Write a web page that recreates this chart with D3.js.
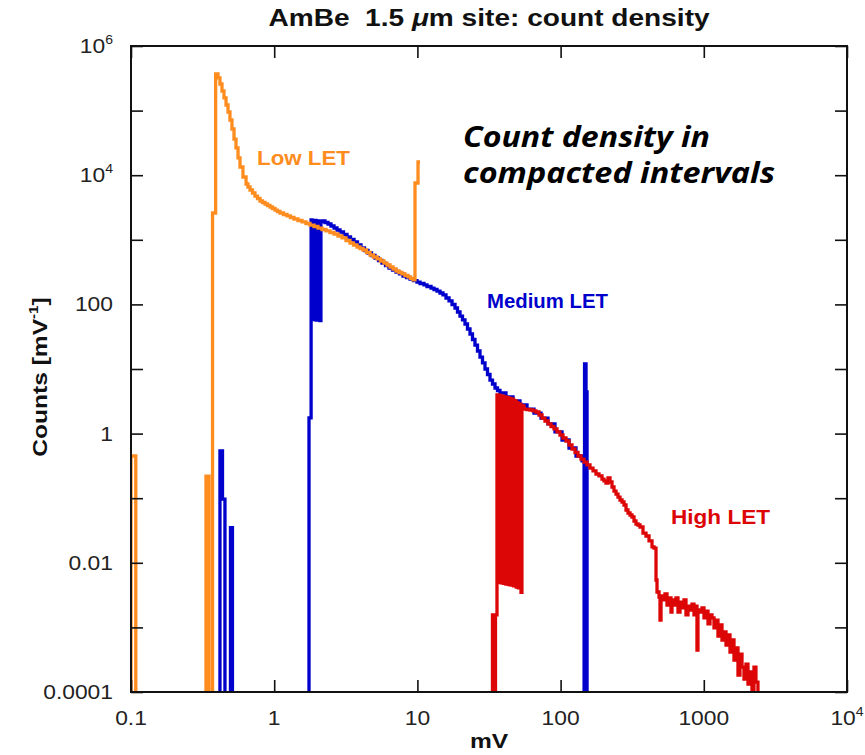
<!DOCTYPE html>
<html>
<head>
<meta charset="utf-8">
<script src="https://cdn.jsdelivr.net/npm/d3@7"></script>
<style>
  html, body { margin: 0; padding: 0; background: #fff; overflow: hidden; }
  svg { display: block; }
</style>
</head>
<body>
<div id="chart"></div>
<script>
// step histograms: [left bin edge in mV, counts per mV]; 0 = empty bin
const lowLET = [
  [0.1, 0], [0.1, 0.45], [0.108, 0], [0.334, 0.22], [0.3505, 0], [0.371, 2600],
  [0.390, 3.69e5], [0.405, 3.2e5], [0.418, 2.58e5], [0.432, 2.01e5], [0.446, 1.57e5],
  [0.461, 1.22e5], [0.476, 9.51e4], [0.491, 7.15e4], [0.507, 5.19e4], [0.524, 3.63e4],
  [0.541, 2.64e4], [0.559, 1.85e4], [0.577, 1.34e4], [0.605, 9380], [0.636, 7310],
  [0.656, 6568], [0.678, 5900], [0.7054, 5303], [0.734, 4760], [0.7644, 4358],
  [0.796, 3990], [0.8286, 3780], [0.863, 3580], [0.8979, 3396], [0.935, 3220],
  [0.973, 3051], [1.013, 2890], [1.0545, 2742], [1.098, 2600], [1.161, 2464],
  [1.229, 2340], [1.299, 2214], [1.375, 2100], [1.466, 1990], [1.564, 1890],
  [1.667, 1788], [1.778, 1690], [1.897, 1607], [2.023, 1520], [2.157, 1443],
  [2.300, 1370], [2.453, 1297], [2.617, 1230], [2.790, 1145], [2.976, 1070],
  [3.172, 976], [3.383, 892], [3.580, 831], [3.786, 774], [3.973, 733], [4.170, 695],
  [4.411, 636], [4.667, 582], [4.936, 542], [5.223, 505], [5.524, 470], [5.846, 437],
  [6.133, 407], [6.438, 379], [6.754, 353], [7.089, 329], [7.437, 312], [7.806, 296],
  [8.191, 280], [8.596, 266], [8.950, 252], [9.318, 239],
  [9.621, 7570], [10.10, 1.6e4], [10.43, 1.6e4]
];

const mediumLET = [
  [0.418, 0], [0.418, 0.54], [0.4355, 0.097], [0.453, 0], [0.495, 0.035], [0.511, 0],
  [1.75, 1.75], [1.81, 2030], [1.84, 60], [1.87, 2000], [1.90, 58], [1.93, 1990],
  [1.96, 57], [1.99, 1970], [2.03, 57], [2.06, 1950], [2.09, 56], [2.12, 1920],
  [2.157, 1954], [2.263, 1853], [2.375, 1757], [2.492, 1635], [2.617, 1522],
  [2.745, 1418], [2.881, 1320], [3.048, 1208], [3.225, 1105], [3.411, 1011],
  [3.609, 924], [3.817, 831], [4.038, 747], [4.272, 683], [4.519, 625], [4.780, 571],
  [5.057, 523], [5.350, 478], [5.659, 437], [5.987, 400], [6.334, 366], [6.700, 341],
  [7.089, 317], [7.499, 296], [7.933, 275], [8.392, 261], [8.878, 247], [9.391, 234],
  [9.936, 222], [10.43, 210.6], [11.12, 200], [11.67, 189.3], [12.45, 179],
  [13.06, 170.1], [13.71, 161], [14.38, 150.2], [15.09, 140], [15.84, 125.7],
  [16.63, 113], [17.45, 99.7], [18.31, 88], [19.05, 76.3], [19.84, 66], [20.65, 57.4],
  [21.50, 49.7], [22.37, 41.6], [23.30, 34.8], [24.25, 28.6], [25.24, 23.5],
  [26.28, 19.0], [27.36, 15.3], [28.48, 12.4], [29.65, 10.0], [30.87, 8.22],
  [32.14, 6.75], [33.45, 5.86], [34.83, 5.08], [36.26, 4.65], [37.74, 4.25],
  [41.56, 3.69], [46.52, 3.20], [52.06, 2.77], [58.27, 2.40], [65.20, 2.08],
  [72.97, 1.74], [81.66, 1.41], [91.40, 1.06], [102.3, 0.796], [114.5, 0.599],
  [128.1, 0.450], [141.1, 0.377], [145.9, 0],
  [147.0, 11.95], [150.5, 4.41], [153.0, 0], [154, 0]
];

const highLET = [
  [33.45, 0], [33.45, 0.00156], [34.54, 0], [35.10, 0.00156],
  [35.96, 3.96], [36.7, 0.0050], [37.5, 3.9], [38.3, 0.0049], [39.1, 3.8], [39.9, 0.0048],
  [40.7, 3.7], [41.5, 0.0047], [42.4, 3.6], [43.3, 0.0046], [44.2, 3.5], [45.1, 0.0045],
  [46.0, 3.4], [47.0, 0.0044], [48.0, 3.2], [49.0, 0.0042], [50.0, 3.0], [50.8, 0.0041],
  [51.2, 2.85], [52.9, 0.0035], [53.7, 2.68], [55.5, 2.40], [58.27, 2.36], [61.2, 2.32],
  [64.17, 2.24], [67.3, 2.16], [70.66, 1.94], [74.2, 1.74], [77.82, 1.567], [81.7, 1.41],
  [85.70, 1.288], [89.9, 1.18], [94.38, 1.06], [99.0, 0.951], [103.9, 0.855],
  [109.1, 0.768], [114.5, 0.666], [120.1, 0.578], [126.1, 0.510], [132.3, 0.450],
  [138.8, 0.404], [145.7, 0.363], [152.9, 0.327], [160.4, 0.293], [168.4, 0.264],
  [176.7, 0.237], [185.4, 0.221], [194.6, 0.198], [200.9, 0.185], [207.5, 0.172],
  [214.3, 0.206], [221.3, 0.178], [228.6, 0.149], [236.0, 0.129], [243.8, 0.116],
  [251.7, 0.104], [259.9, 0.0938], [268.5, 0.0873], [277.2, 0.0785], [286.3, 0.0657],
  [295.6, 0.0590], [305.3, 0.0549], [315.2, 0.0512], [325.6, 0.0444], [336.1, 0.0399],
  [347.2, 0.0385], [358.5, 0.0358], [376.2, 0.0289], [394.8, 0.0260], [414.4, 0.0218],
  [434.9, 0.0176], [449.1, 0.0169],
  [463.8, 0.00542], [471.3, 0.00353], [486.7, 0.00295], [494.6, 0.00130], [502.6, 0.00306],
  [518.9, 0.00266], [535.8, 0.00329], [553.4, 0.00222], [571.4, 0.00285], [590.1, 0.00173],
  [599.7, 0.00266], [619.3, 0.00222], [639.5, 0.00285], [660.3, 0.00173], [681.9, 0.00247],
  [704.2, 0.00200], [727.1, 0.00266], [750.9, 0.00156], [775.4, 0.00214], [800.7, 0.00186],
  [826.9, 0.00230], [853.9, 0.00156], [881.7, 0.00214], [896.0, 0.000447], [910.5, 0.00186],
  [940.9, 0.00173], [971.4, 0.00200], [1003, 0.00140], [1036, 0.00179], [1070, 0.00113],
  [1105, 0.00156], [1141, 0.00140], [1178, 0.00098], [1217, 0.00130], [1256, 0.000736],
  [1298, 0.00109], [1340, 0.000638], [1384, 0.000849], [1429, 0.000534], [1476, 0.000763],
  [1524, 0.000416], [1573, 0.000638], [1625, 0.000313], [1678, 0.000480], [1733, 0.000183],
  [1789, 0.000385], [1848, 0.000242], [1908, 0.000158], [1970, 0.000269], [2035, 0.000132],
  [2101, 0.000204], [2170, 0.000110], [2241, 0.000242], [2313, 0.000142], [2389, 0], [2400, 0]
];

const xTickVals = [0.1, 1, 10, 100, 1000, 1e4];
const xTickText = [["0.1"], ["1"], ["10"], ["100"], ["1000"], ["10", "4"]];
const yTickVals = [1e6, 1e4, 100, 1, 0.01, 1e-4];
const yTickText = [["10", "6"], ["10", "4"], ["100"], ["1"], ["0.01"], ["0.0001"]];
const decades = [0.1, 1, 10, 100, 1000, 1e4];
const yDecades = [1e-4, 1e-3, 1e-2, 0.1, 1, 10, 100, 1e3, 1e4, 1e5, 1e6];

const series = [
  { name: "Medium LET", data: mediumLET, color: "#0000cc", lx: 487, ly: 308, lw: 121 },
  { name: "High LET", data: highLET, color: "#dd0606", lx: 671, ly: 524, lw: 99 },
  { name: "Low LET", data: lowLET, color: "#ff8c1e", lx: 257, ly: 165, lw: 93 }
];

const W = 865, H = 755;
const margin = { top: 46, right: 18, bottom: 63, left: 131 };
const width = W - margin.left - margin.right;
const height = H - margin.top - margin.bottom;
const stretchX = 1.17; // the plot lettering is wider than Liberation Sans

const svg = d3.select("#chart").append("svg").attr("width", W).attr("height", H);
const g = svg.append("g").attr("transform", `translate(${margin.left},${margin.top})`);

const x = d3.scaleLog().domain([0.1, 1e4]).range([0, width]);
const y = d3.scaleLog().domain([1e-4, 1e6]).range([height, 0]);

g.append("defs").append("clipPath").attr("id", "plot-clip")
  .append("rect").attr("width", width).attr("height", height);

const line = d3.line()
  .x(d => x(d[0]))
  .y(d => (d[1] > 0 ? y(d[1]) : height + 10))
  .curve(d3.curveStepAfter);

const plot = g.append("g").attr("clip-path", "url(#plot-clip)");
series.forEach(s => {
  plot.append("path")
    .datum(s.data)
    .attr("fill", "none")
    .attr("stroke", s.color)
    .attr("stroke-width", 3.3)
    .attr("d", line);
});

// frame and inward ticks on all four sides
const tick = 12;
g.append("g").attr("transform", `translate(0,${height})`)
  .call(d3.axisBottom(x).tickValues(decades).tickSize(-tick).tickFormat(""));
g.append("g")
  .call(d3.axisTop(x).tickValues(decades).tickSize(-tick).tickFormat(""));
g.append("g")
  .call(d3.axisLeft(y).tickValues(yDecades).tickSize(-tick).tickFormat(""));
g.append("g").attr("transform", `translate(${width},0)`)
  .call(d3.axisRight(y).tickValues(yDecades).tickSize(-tick).tickFormat(""));
g.selectAll(".domain").remove();
g.selectAll(".tick line").attr("stroke", "#111").attr("stroke-width", 1.6);
g.append("rect").attr("width", width).attr("height", height)
  .attr("fill", "none").attr("stroke", "#111").attr("stroke-width", 2);

const font = "'Liberation Sans', Arial, sans-serif";

// text placed at (px, py) and widened horizontally
function wideText(parent, px, py, anchor, size, bold) {
  return parent.append("g")
    .attr("transform", `translate(${px},${py}) scale(${stretchX},1)`)
    .append("text")
    .attr("text-anchor", anchor)
    .attr("font-family", font).attr("font-size", size)
    .attr("font-weight", bold ? "bold" : "normal")
    .attr("fill", bold ? "#111" : "#222");
}

function label(sel, parts) {
  sel.append("tspan").text(parts[0]);
  if (parts[1]) {
    sel.append("tspan").attr("dy", -9).attr("font-size", 12).text(parts[1]);
  }
}

xTickVals.forEach((v, i) => {
  label(wideText(g, x(v), height + 33, "middle", 19.5, false), xTickText[i]);
});

yTickVals.forEach((v, i) => {
  label(wideText(g, -18, y(v) + 7, "end", 19.5, false), yTickText[i]);
});

// title and axis titles
wideText(svg, margin.left + width / 2, 26, "middle", 24, true)
  .html("AmBe&#160;&#160;1.5 <tspan font-style='italic'>μ</tspan>m site: count density");

wideText(svg, margin.left + width / 2, 748, "middle", 21, true).text("mV");

const yTitle = svg.append("g")
  .attr("transform", `translate(47,377) rotate(-90) scale(${stretchX},1)`)
  .append("text")
  .attr("text-anchor", "middle")
  .attr("font-family", font).attr("font-weight", "bold").attr("font-size", 21)
  .attr("fill", "#111");
yTitle.append("tspan").text("Counts [mV");
yTitle.append("tspan").attr("dy", -9).attr("font-size", 13).text("-1");
yTitle.append("tspan").attr("dy", 9).text("]");

// series labels
series.forEach(s => {
  svg.append("text")
    .attr("x", s.lx).attr("y", s.ly)
    .attr("font-family", font).attr("font-weight", "bold").attr("font-size", 21)
    .attr("fill", s.color)
    .attr("textLength", s.lw).attr("lengthAdjust", "spacingAndGlyphs")
    .text(s.name);
});

// annotation
const note = ["Count density in", "compacted intervals"];
const noteWidths = [247, 312];
note.forEach((t, i) => {
  svg.append("text")
    .attr("x", 463).attr("y", 147 + i * 36)
    .attr("font-family", "'Open Sans', 'Noto Sans', sans-serif")
    .attr("font-weight", "bold").attr("font-style", "italic").attr("font-size", 29)
    .attr("fill", "#000")
    .attr("textLength", noteWidths[i]).attr("lengthAdjust", "spacingAndGlyphs")
    .text(t);
});
</script>
</body>
</html>
